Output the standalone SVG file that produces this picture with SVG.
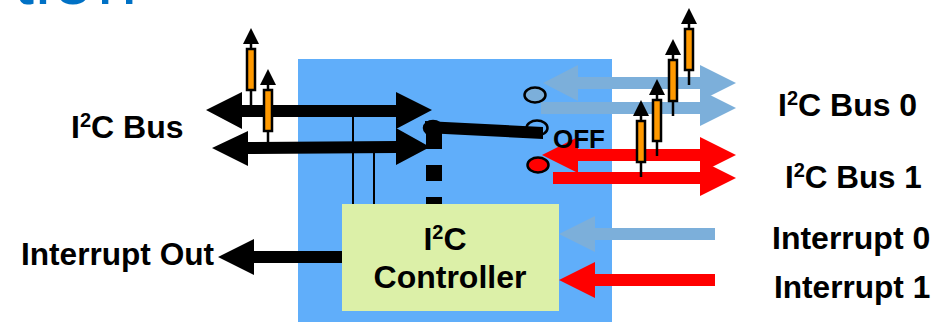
<svg xmlns="http://www.w3.org/2000/svg" xmlns:xlink="http://www.w3.org/1999/xlink" width="933" height="322" viewBox="0 0 933 322">
<style>
text{font-family:"Liberation Sans",Arial,sans-serif;font-weight:bold;fill:#000}
.lab{font-size:32px}
.sup{font-size:20px}
.k{fill:#000}.lb{fill:#7cafda}.r{fill:#f00}
.w{stroke:#000;stroke-width:2;fill:none}
.sw{stroke:#000;stroke-width:2.5}
</style>
<defs>
<g id="res">
<path d="M0 0L8 16H-8Z" fill="#000"/>
<path d="M0 16V21M0 62V77" stroke="#000" stroke-width="2.5" fill="none"/>
<rect x="-4" y="21" width="8" height="41" fill="#f90" stroke="#000" stroke-width="2.5"/>
</g>
</defs>
<rect id="chip" x="298" y="59" width="314" height="263" fill="#60aefa"/>
<g id="title"><text x="14 35 53 97" y="4" font-size="72" style="font-size:72px;font-weight:normal;fill:#0071c5">tion</text></g>
<g id="connectors">
<path class="w" d="M353 117V204M374 153V204"/>
<polygon class="k" points="206,110 242,92 242,105 396,105 396,92 432,110 396,129 396,117 242,117 242,129"/>
<polygon class="k" points="212,148 248,131 248,142 396,141 396,128 430,147 396,165 396,153 248,154 248,166"/>
<polygon class="lb" points="543,83 578,65 578,77 700,77 700,65 736,83 700,101 700,89 578,89 578,101"/>
<polygon class="lb" points="541,102 700,102 700,90 736,108 700,126 700,114 541,114"/>
<polygon class="r" points="542,155 578,137 578,149 700,149 700,137 736,155 700,173 700,161 578,161 578,173"/>
<polygon class="r" points="553,172 700,172 700,160 736,178 700,196 700,184 553,184"/>
<polygon class="lb" points="559,234 595,216 595,228 715,228 715,240 595,240 595,252"/>
<polygon class="r" points="559,280 595,262 595,274 715,274 715,286 595,286 595,298"/>
<polygon class="k" points="218,257 254,239 254,251 342,251 342,263 254,263 254,275"/>
</g>
<g id="switch">
<ellipse cx="535" cy="95" rx="10.5" ry="7.5" fill="#7cafda" class="sw"/>
<ellipse cx="537" cy="128" rx="10.5" ry="7.5" fill="none" class="sw"/>
<ellipse cx="538" cy="165" rx="10.5" ry="7.5" fill="#f00" class="sw"/>
<ellipse cx="433" cy="128" rx="9" ry="7" fill="#999" class="sw"/>
<rect x="426" y="133" width="16" height="16" class="k"/>
<polygon class="k" points="425,121 543,127 543,139 425,133"/>
<rect x="426" y="165" width="16" height="16" class="k"/>
<rect x="426" y="197" width="16" height="7" class="k"/>
<text x="553" y="148" style="font-size:26px">OFF</text>
</g>
<g id="pullups">
<use xlink:href="#res" href="#res" x="251" y="28"/>
<use xlink:href="#res" href="#res" x="268" y="69"/>
<use xlink:href="#res" href="#res" x="641" y="100"/>
<use xlink:href="#res" href="#res" x="657" y="79"/>
<use xlink:href="#res" href="#res" x="673" y="39"/>
<use xlink:href="#res" href="#res" x="689" y="8"/>
</g>
<g id="controller">
<rect x="342" y="204" width="217" height="107" fill="#dcf0a8"/>
<text x="445" y="250" text-anchor="middle" class="lab">I<tspan class="sup" dy="-11">2</tspan><tspan dy="11">C</tspan></text>
<text x="450" y="288" text-anchor="middle" class="lab">Controller</text>
</g>
<g id="labels">
<text x="71" y="138" class="lab">I<tspan class="sup" dy="-11">2</tspan><tspan dy="11">C Bus</tspan></text>
<text x="21" y="265" style="font-size:31.6px">Interrupt Out</text>
<text x="778" y="116" class="lab">I<tspan class="sup" dy="-11">2</tspan><tspan dy="11">C Bus 0</tspan></text>
<text x="785" y="188" style="font-size:31.4px">I<tspan class="sup" dy="-11">2</tspan><tspan dy="11">C Bus 1</tspan></text>
<text x="772" y="249" class="lab">Interrupt 0</text>
<text x="774" y="298" style="font-size:31.6px">Interrupt 1</text>
</g>
</svg>
